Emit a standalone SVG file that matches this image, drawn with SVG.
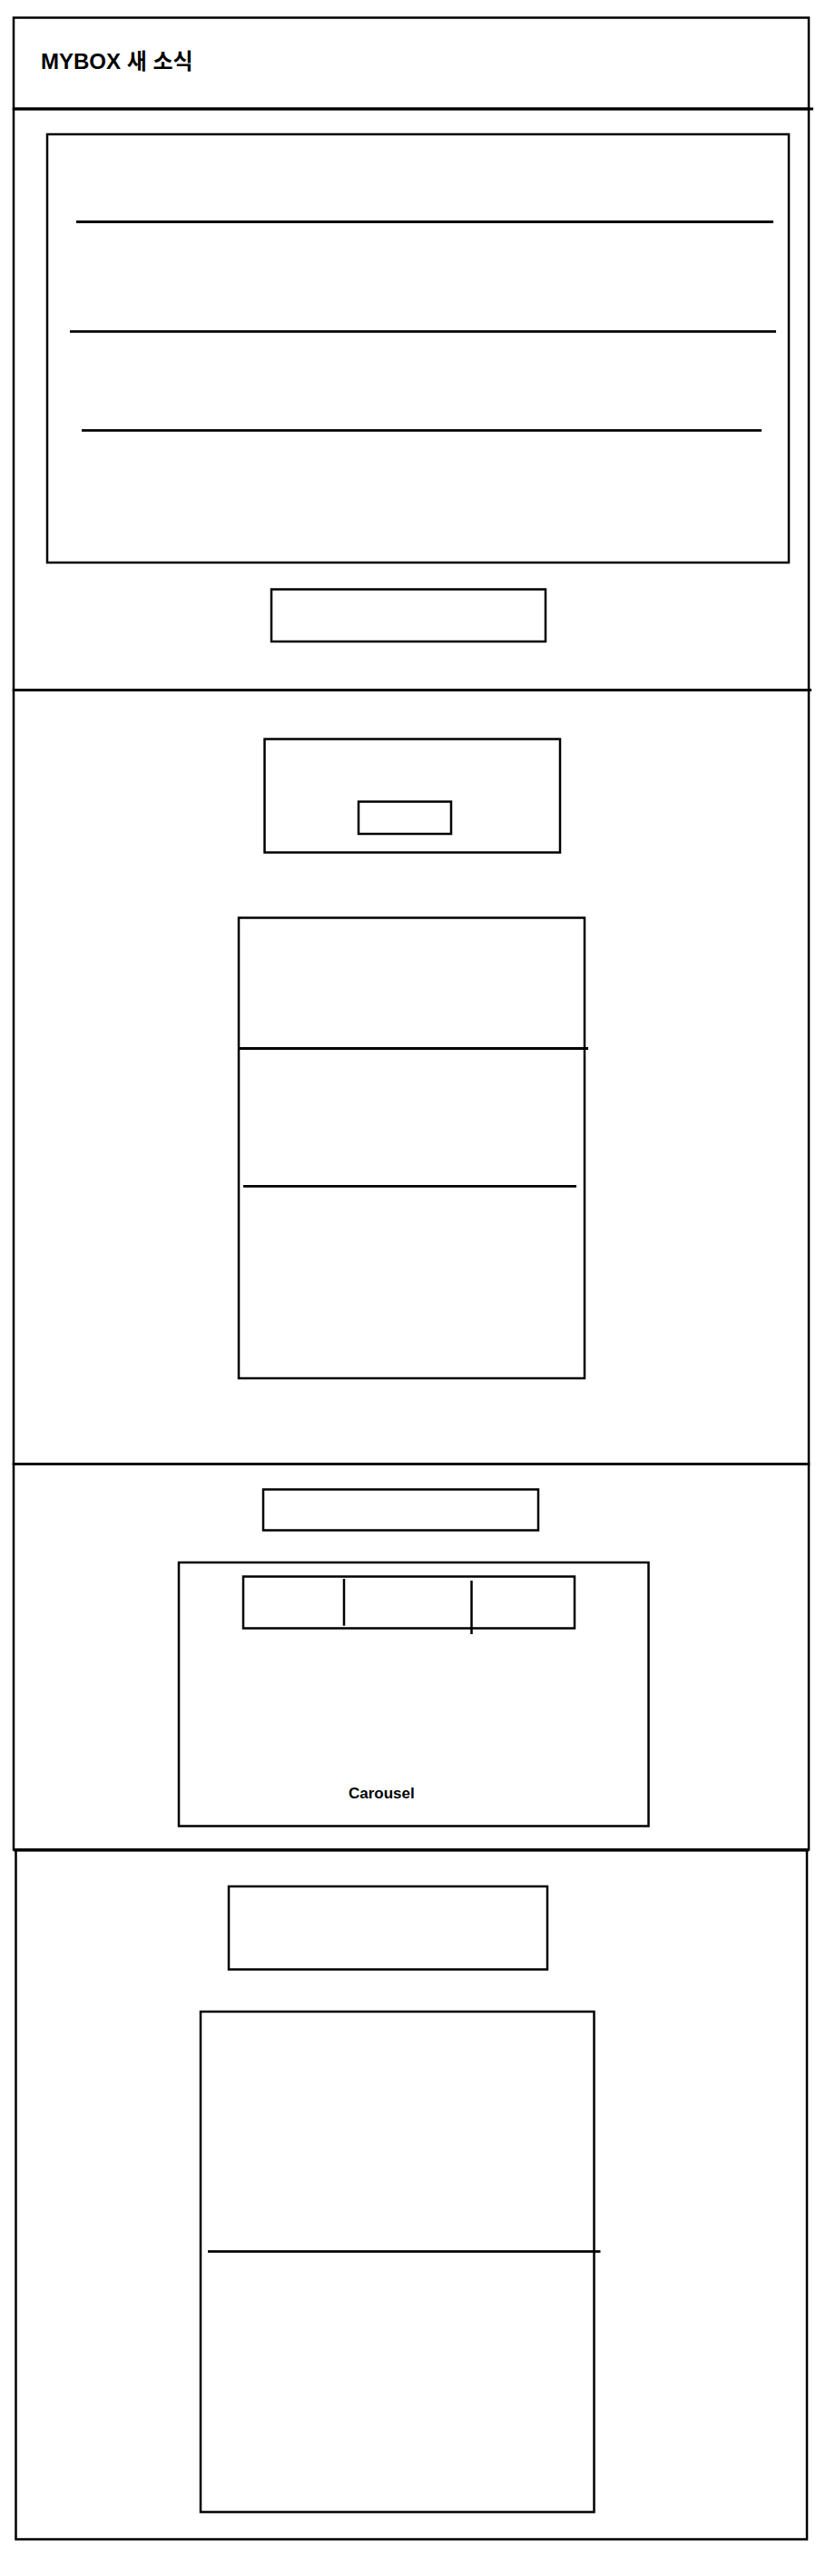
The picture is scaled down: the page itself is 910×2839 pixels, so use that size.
<svg xmlns="http://www.w3.org/2000/svg" width="910" height="2839" viewBox="0 0 910 2839">
<style>
.b{fill:none;stroke:#000;stroke-width:2.5}
.l{stroke:#000;stroke-width:2.8;fill:none}
.t{font-family:"Liberation Sans","Noto Sans CJK KR",sans-serif;font-weight:bold;fill:#000}
</style>
<rect width="910" height="2839" fill="#fff"/>
<g id="header">
<rect class="b" x="15" y="19.5" width="876" height="100.5"/>
<text class="t" x="45" y="76" font-size="24">MYBOX 새 소식</text>
</g>
<g id="section-news">
<rect class="b" x="15" y="120" width="876" height="640.5"/>
<line class="l" x1="15" y1="120" x2="896" y2="120"/>
<g id="news-list">
<rect class="b" x="52" y="148" width="817" height="472"/>
<line class="l" x1="84" y1="244.5" x2="852" y2="244.5"/>
<line class="l" x1="77" y1="365.3" x2="855" y2="365.3"/>
<line class="l" x1="90" y1="474.3" x2="839" y2="474.3"/>
</g>
<rect id="news-button" class="b" x="299" y="649.5" width="302" height="57.5"/>
</g>
<g id="section-main">
<rect class="b" x="15" y="760.5" width="876" height="853"/>
<line class="l" x1="15" y1="760.5" x2="894" y2="760.5"/>
<g id="banner">
<rect class="b" x="291.5" y="814.5" width="325.5" height="125"/>
<rect class="b" x="395" y="883.5" width="102" height="35.5"/>
</g>
<g id="list-card">
<rect class="b" x="263" y="1011.5" width="381" height="507.5"/>
<line class="l" x1="263" y1="1155.5" x2="648" y2="1155.5"/>
<line class="l" x1="268" y1="1307.3" x2="635" y2="1307.3"/>
</g>
</g>
<g id="section-carousel">
<rect class="b" x="15" y="1613.5" width="876" height="425"/>
<rect id="carousel-title" class="b" x="290" y="1641.5" width="303" height="45"/>
<g id="carousel">
<rect class="b" x="197" y="1722" width="517.5" height="290.5"/>
<rect class="b" x="268" y="1737.5" width="365" height="57"/>
<line class="b" x1="379" y1="1740" x2="379" y2="1791.7"/>
<line class="b" x1="519.5" y1="1742" x2="519.5" y2="1801"/>
<text class="t" x="384" y="1981.5" font-size="17">Carousel</text>
</g>
</g>
<g id="section-bottom">
<line class="l" x1="15" y1="2039" x2="891" y2="2039"/>
<rect class="b" x="17.5" y="2039" width="871.5" height="759.5"/>
<rect id="bottom-title" class="b" x="252" y="2079" width="351" height="91.5"/>
<g id="bottom-card">
<rect class="b" x="221" y="2217" width="433.5" height="551.5"/>
<line class="l" x1="229" y1="2481.3" x2="661.5" y2="2481.3"/>
</g>
</g>
<g id="connectors"></g>
</svg>
